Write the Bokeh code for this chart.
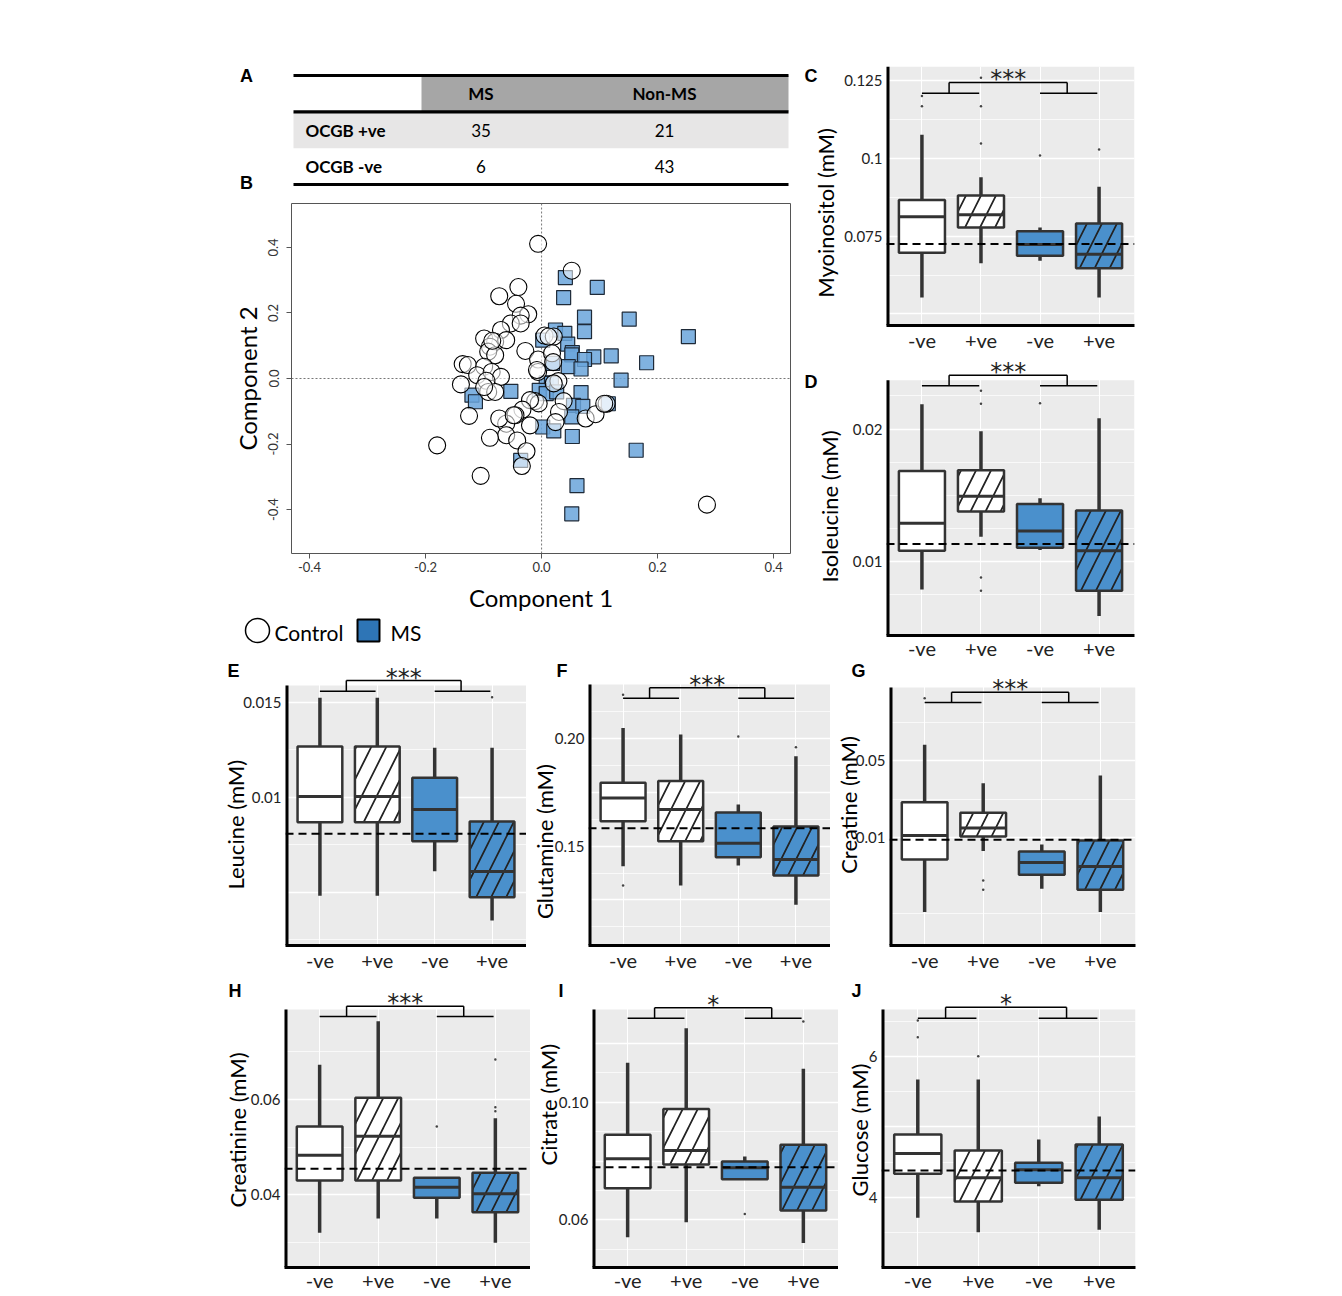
import math
from bokeh.plotting import figure
from bokeh.layouts import column, row
from bokeh.models import Range1d, FixedTicker, BoxAnnotation, Span
from bokeh.core.properties import value
from bokeh.embed import file_html
from bokeh.resources import INLINE

FONT = "Lato"
LETTER_FONT = "Liberation Sans"
STAR_FONT = "DejaVu Sans"
BLUE = "#4a90cc"
PANEL_GRAY = "#ebebeb"
INK = "#333333"
NB = "\u00a0"  # non-breaking space, used to nudge a centred axis title along its axis

# ---------------- data: A (table) ----------------
table_rows = ["OCGB +ve", "OCGB -ve"]
table_cols = ["MS", "Non-MS"]
ms_counts = [35, 6]
non_ms_counts = [21, 43]

# ---------------- data: B (PCA scores) ----------------
ctrl_x = [-0.006, 0.052, -0.040, -0.073, -0.044, -0.023, -0.036, -0.053, -0.036, -0.070,
          -0.099, -0.080, -0.061, -0.089, -0.092, -0.080, -0.028, 0.005, 0.021, -0.006,
          0.018, -0.006, -0.008, -0.136, -0.127, -0.099, -0.111, -0.086, -0.070, -0.095,
          -0.139, -0.092, -0.080, 0.029, 0.021, -0.011, -0.005, -0.020, 0.038, 0.030,
          0.024, -0.033, -0.045, -0.061, -0.073, -0.125, -0.020, -0.061, -0.089, -0.042,
          -0.026, -0.034, -0.105, -0.180, 0.285, 0.076, 0.093, 0.112, 0.108, -0.048,
          -0.099, 0.012, -0.085, 0.020]
ctrl_y = [0.411, 0.329, 0.279, 0.251, 0.228, 0.196, 0.192, 0.168, 0.168, 0.148,
          0.122, 0.112, 0.117, 0.097, 0.082, 0.071, 0.084, 0.131, 0.128, 0.058,
          0.077, 0.020, 0.026, 0.044, 0.041, 0.036, 0.010, 0.020, 0.005, -0.007,
          -0.018, -0.041, -0.041, -0.008, -0.015, -0.069, -0.076, -0.066, -0.069, -0.102,
          -0.133, -0.095, -0.112, -0.138, -0.122, -0.114, -0.143, -0.173, -0.181, -0.189,
          -0.222, -0.267, -0.297, -0.204, -0.385, -0.122, -0.109, -0.077, -0.077, -0.112,
          -0.026, 0.128, 0.115, 0.050]
ms_x = [0.041, 0.096, 0.038, 0.074, 0.151, 0.253, 0.074, 0.024, 0.040, 0.002,
        0.045, 0.053, 0.052, 0.090, 0.074, 0.120, 0.181, 0.019, 0.046, 0.068,
        0.137, 0.008, 0.017, -0.053, -0.120, -0.114, -0.004, 0.008, 0.026, 0.068,
        0.055, 0.071, 0.115, 0.052, 0.002, 0.021, 0.053, 0.163, -0.036, 0.061, 0.052]
ms_y = [0.308, 0.278, 0.247, 0.187, 0.181, 0.128, 0.143, 0.148, 0.138, 0.117,
        0.105, 0.079, 0.072, 0.066, 0.058, 0.069, 0.048, 0.046, 0.036, 0.029,
        -0.005, -0.013, -0.015, -0.039, -0.051, -0.071, -0.036, -0.046, -0.041, -0.043,
        -0.082, -0.085, -0.077, -0.117, -0.148, -0.160, -0.177, -0.219, -0.250, -0.327, -0.413]
pca_ticks = [-0.4, -0.2, 0.0, 0.2, 0.4]
pca_tick_labels = ["-0.4", "-0.2", "0.0", "0.2", "0.4"]
legend_labels = ["Control", "MS"]

# ---------------- data: C-J (box plots) ----------------
groups = ["-ve", "+ve", "-ve", "+ve"]

myo_low = [0.0553, 0.0663, 0.0671, 0.0553]
myo_q1 = [0.0697, 0.0778, 0.0687, 0.0647]
myo_med = [0.0812, 0.0819, 0.0723, 0.0692]
myo_q3 = [0.0866, 0.0881, 0.0766, 0.0791]
myo_high = [0.1076, 0.0939, 0.0778, 0.0909]
myo_out_group = [1, 1, 2, 2, 2, 3, 4]
myo_out_value = [0.1200, 0.1167, 0.1259, 0.1167, 0.1048, 0.1009, 0.1028]
myo_ref = 0.0725

ile_low = [0.00789, 0.01187, 0.01087, 0.0059]
ile_q1 = [0.01082, 0.01378, 0.01104, 0.00781]
ile_med = [0.01289, 0.01493, 0.01231, 0.01082]
ile_q3 = [0.01684, 0.01689, 0.01435, 0.01386]
ile_high = [0.02187, 0.01983, 0.01478, 0.02082]
ile_out_group = [2, 2, 2, 2, 3]
ile_out_value = [0.02289, 0.0219, 0.00881, 0.00781, 0.02194]
ile_ref = 0.01134

leu_low = [0.00481, 0.00481, 0.0061, 0.00351]
leu_q1 = [0.00868, 0.00868, 0.00768, 0.00474]
leu_med = [0.01004, 0.01004, 0.00935, 0.00609]
leu_q3 = [0.01267, 0.01267, 0.01102, 0.00872]
leu_high = [0.01523, 0.01523, 0.0126, 0.0126]
leu_out_group = [4]
leu_out_value = [0.01526]
leu_ref = 0.00807

gln_low = [0.1407, 0.1317, 0.1410, 0.1227]
gln_q1 = [0.1616, 0.1523, 0.1449, 0.1363]
gln_med = [0.1724, 0.1671, 0.1514, 0.1438]
gln_q3 = [0.1795, 0.1803, 0.1657, 0.1592]
gln_high = [0.2050, 0.2020, 0.1694, 0.1919]
gln_out_group = [1, 1, 3, 4]
gln_out_value = [0.2205, 0.1317, 0.2011, 0.1961]
gln_ref = 0.1584

cre_low = [0.00213, 0.00758, 0.00346, 0.00213]
cre_q1 = [0.00637, 0.01029, 0.00463, 0.00339]
cre_med = [0.0105, 0.01224, 0.00598, 0.00551]
cre_q3 = [0.0210, 0.01683, 0.00753, 0.00946]
cre_high = [0.0693, 0.0312, 0.00871, 0.0366]
cre_out_group = [1, 2, 2]
cre_out_value = [0.1829, 0.00412, 0.00339]
cre_ref = 0.0096

crn_low = [0.03203, 0.03503, 0.03503, 0.02993]
crn_q1 = [0.04301, 0.04301, 0.03937, 0.03636]
crn_med = [0.04832, 0.05231, 0.04161, 0.04021]
crn_q3 = [0.05434, 0.06035, 0.04357, 0.04462]
crn_high = [0.06727, 0.07643, 0.04371, 0.05608]
crn_out_group = [3, 4, 4, 4]
crn_out_value = [0.05434, 0.06839, 0.05839, 0.05755]
crn_ref = 0.04546

cit_low = [0.05411, 0.05921, 0.07382, 0.05218]
cit_q1 = [0.07076, 0.07881, 0.07382, 0.06317]
cit_med = [0.08074, 0.08357, 0.07768, 0.0711]
cit_q3 = [0.0889, 0.09773, 0.07983, 0.0855]
cit_high = [0.11337, 0.12516, 0.08153, 0.11133]
cit_out_group = [3, 4]
cit_out_value = [0.0620, 0.12742]
cit_ref = 0.0779

glc_low = [3.706, 3.502, 4.156, 3.536]
glc_q1 = [4.332, 3.938, 4.204, 3.962]
glc_med = [4.621, 4.275, 4.389, 4.275]
glc_q3 = [4.891, 4.664, 4.488, 4.749]
glc_high = [5.673, 5.673, 4.820, 5.147]
glc_out_group = [1, 1, 2]
glc_out_value = [6.512, 6.275, 6.005]
glc_ref = 4.379

group_fill = ["white", "white", BLUE, BLUE]
group_hatch = [" ", "/", " ", "/"]
BOX_W = 0.78


def box_panel(fig_box, frame, yrange, gray_top, low, q1, med, q3, high, out_g, out_v, ref,
              stars, brk, ticks, tick_labels, grid_major, grid_minor, ylabel, standoff,
              letter_text, letter_offset, letter_standoff, log=False, xlabel_standoff=2):
    fx0, fy0, fx1, fy1 = fig_box
    l, t, r, b = frame
    xr = (0.4, 4.6)
    p = figure(width=fx1 - fx0, height=fy1 - fy0, x_range=Range1d(*xr),
               y_range=Range1d(*yrange), y_axis_type="log" if log else "linear",
               min_border_left=l - fx0, min_border_right=fx1 - r,
               min_border_top=t - fy0, min_border_bottom=fy1 - b,
               output_backend="svg", toolbar_location=None)
    p.outline_line_color = None
    p.background_fill_color = "white"
    p.border_fill_color = "white"
    # panel letter as the figure title
    p.title.text = letter_text
    p.title.align = "left"
    p.title.offset = letter_offset
    p.title.standoff = letter_standoff
    p.title.text_font = LETTER_FONT
    p.title.text_font_style = "bold"
    p.title.text_font_size = "18px"
    p.title.text_color = "black"

    p.add_layout(BoxAnnotation(top=gray_top, fill_color=PANEL_GRAY, fill_alpha=1.0,
                               line_color=None, level="image"))
    xs = list(range(1, len(groups) + 1))
    xg = p.xgrid[0]
    xg.ticker = FixedTicker(ticks=xs)
    xg.grid_line_color = "white"
    xg.grid_line_width = 1
    yg = p.ygrid[0]
    yg.ticker = FixedTicker(ticks=grid_major, minor_ticks=grid_minor)
    yg.grid_line_color = "white"
    yg.grid_line_width = 1.4
    yg.minor_grid_line_color = "white"
    yg.minor_grid_line_width = 0.7

    # left axis line only as tall as the grey panel
    p.segment([xr[0]], [yrange[0]], [xr[0]], [gray_top], line_color="black", line_width=6)

    x0 = [x - BOX_W / 2 for x in xs]
    x1 = [x + BOX_W / 2 for x in xs]
    p.segment(xs, q3, xs, high, line_color=INK, line_width=3.5)
    p.segment(xs, low, xs, q1, line_color=INK, line_width=3.5)
    p.vbar(x=xs, width=BOX_W, bottom=q1, top=q3, fill_color=group_fill, line_color=INK,
           line_width=2.5, hatch_pattern=group_hatch, hatch_color="#222222",
           hatch_weight=1.7, hatch_scale=30)
    p.segment(x0, med, x1, med, line_color=INK, line_width=3)
    p.scatter(out_g, out_v, size=2.5, color="#444444", line_color=None)
    p.add_layout(Span(location=ref, dimension="width", line_color="black",
                      line_dash="8 5", line_width=2))

    # significance bracket between the two pairs
    bl, bh = brk
    pairs = [(xs[0], xs[1]), (xs[2], xs[3])]
    mids = [(a + c) / 2 - 0.04 for a, c in pairs]
    bx0 = [a for a, c in pairs] + mids + [mids[0]]
    bx1 = [c - 0.03 for a, c in pairs] + mids + [mids[1]]
    by0 = [bl, bl, bl, bl, bh]
    by1 = [bl, bl, bh, bh, bh]
    p.segment(bx0, by0, bx1, by1, line_color="black", line_width=1.5)
    p.text(x=[(mids[0] + mids[1]) / 2], y=[bh], text=[stars], text_font=value(STAR_FONT),
           text_font_size="24px", text_align="center", text_baseline="middle",
           y_offset=-3, text_color="#222222")

    ya = p.yaxis[0]
    ya.ticker = FixedTicker(ticks=ticks)
    ya.major_label_overrides = {tk: lb for tk, lb in zip(ticks, tick_labels)}
    xa = p.xaxis[0]
    xa.ticker = FixedTicker(ticks=xs)
    xa.major_label_overrides = {x: g for x, g in zip(xs, groups)}
    for ax in (xa, ya):
        ax.axis_line_width = 3
        ax.axis_line_color = "black"
        ax.major_tick_line_color = None
        ax.minor_tick_line_color = None
        ax.major_tick_out = 0
        ax.major_tick_in = 0
        ax.major_label_text_font = FONT
        ax.major_label_text_color = "#222222"
    ya.axis_line_color = None
    ya.major_label_standoff = 4
    ya.major_label_text_font_size = "15px"
    xa.major_label_standoff = xlabel_standoff
    xa.major_label_text_font_size = "20px"
    ya.axis_label = ylabel
    ya.axis_label_text_font = FONT
    ya.axis_label_text_font_size = "22px"
    ya.axis_label_text_font_style = "normal"
    ya.axis_label_text_color = "black"
    ya.axis_label_standoff = standoff
    return p


# ---------------- A: table (frame widened so the panel letters sit inside it) ----------------
col_edges = [0, 128, 247, 495]
panel_letters_AB = ["A", "B"]
tA = figure(width=800, height=193, x_range=Range1d(-57, 497), y_range=Range1d(-0.2477, 3.413),
            x_axis_type=None, y_axis_type=None, min_border_left=236, min_border_right=10,
            min_border_top=60, min_border_bottom=0, output_backend="svg", toolbar_location=None)
tA.outline_line_color = None
tA.grid.visible = False
n_rows = len(table_rows)
tA.quad(left=[col_edges[1]], right=[col_edges[3]], bottom=[n_rows], top=[n_rows + 1],
        fill_color="#a6a6a6", line_color=None)
tA.quad(left=[col_edges[0]], right=[col_edges[3]], bottom=[n_rows - 1], top=[n_rows],
        fill_color="#e7e6e6", line_color=None)
tA.segment(x0=[col_edges[0]] * 3, x1=[col_edges[3]] * 3, y0=[n_rows + 1, n_rows, 0],
           y1=[n_rows + 1, n_rows, 0], line_color="black", line_width=3.2)
col_centers = [(col_edges[i] + col_edges[i + 1]) / 2 for i in (1, 2)]
tA.text(x=col_centers, y=[n_rows + 0.5] * 2, text=table_cols, text_font=value(FONT),
        text_font_size="17px", text_font_style="bold", text_align="center", text_baseline="middle")
row_y = [n_rows - i - 0.5 for i in range(n_rows)]
tA.text(x=[12] * n_rows, y=row_y, text=table_rows, text_font=value(FONT), text_font_size="17px",
        text_font_style="bold", text_align="left", text_baseline="middle")
tA.text(x=[col_centers[0]] * n_rows, y=row_y, text=[str(v) for v in ms_counts], text_font=value(FONT),
        text_font_size="17px", text_align="center", text_baseline="middle")
tA.text(x=[col_centers[1]] * n_rows, y=row_y, text=[str(v) for v in non_ms_counts],
        text_font=value(FONT), text_font_size="17px", text_align="center", text_baseline="middle")
tA.text(x=[-47, -47], y=[n_rows + 1, 0.05], text=panel_letters_AB, text_font=value(LETTER_FONT),
        text_font_size="18px", text_font_style="bold", text_align="center", text_baseline="middle")

# ---------------- B: PCA ----------------
pB = figure(width=800, height=421, x_range=Range1d(-0.431, 0.429), y_range=Range1d(-0.534, 0.534),
            min_border_left=291, min_border_right=10, min_border_top=10, min_border_bottom=61,
            output_backend="svg", toolbar_location=None)
pB.grid.visible = False
pB.outline_line_color = "#555555"
pB.outline_line_width = 1
pB.add_layout(Span(location=0, dimension="height", line_dash="2 2", line_color="#777777",
                   line_width=1, level="underlay"))
pB.add_layout(Span(location=0, dimension="width", line_dash="2 2", line_color="#777777",
                   line_width=1, level="underlay"))
pB.scatter(ms_x, ms_y, marker="square", size=14, fill_color="#6aa5db", fill_alpha=0.85,
           line_color="#1e2a38", line_width=1.2)
pB.scatter(ctrl_x, ctrl_y, marker="circle", size=17, fill_color="white", fill_alpha=0.55,
           line_color="black", line_width=1.1)
for ax in (pB.xaxis[0], pB.yaxis[0]):
    ax.ticker = FixedTicker(ticks=pca_ticks)
    ax.major_label_overrides = {t: s for t, s in zip(pca_ticks, pca_tick_labels)}
    ax.axis_line_color = None
    ax.major_tick_out = 5
    ax.major_tick_in = 0
    ax.major_tick_line_color = "#555555"
    ax.minor_tick_line_color = None
    ax.major_label_text_font = FONT
    ax.major_label_text_font_size = "13px"
    ax.major_label_text_color = "#333333"
    ax.axis_label_text_font = FONT
    ax.axis_label_text_font_size = "24px"
    ax.axis_label_text_font_style = "normal"
    ax.axis_label_text_color = "black"
pB.xaxis[0].major_label_standoff = 3
pB.yaxis[0].major_label_standoff = 8
pB.xaxis[0].axis_label = "Component 1"
pB.xaxis[0].axis_label_standoff = 8
pB.yaxis[0].axis_label = "Component 2"
pB.yaxis[0].axis_label_standoff = 4
pB.yaxis[0].major_label_orientation = "vertical"

# legend strip for B (its own row so it keeps its full width)
legB = figure(width=800, height=48, x_range=Range1d(0, 800), y_range=Range1d(0, 48),
              x_axis_type=None, y_axis_type=None, min_border=0,
              output_backend="svg", toolbar_location=None)
legB.outline_line_color = None
legB.grid.visible = False
legB.scatter([257], [32], marker="circle", size=24, fill_color="white", line_color="black", line_width=1.5)
legB.scatter([368], [32], marker="square", size=22, fill_color="#2e75b6", line_color="black", line_width=2)
legB.text(x=[274, 390], y=[30, 30], text=legend_labels, text_font=value(FONT), text_font_size="21px",
          text_align="left", text_baseline="middle", text_color="black")

# ---------------- C - J ----------------
pC = box_panel((800, 0, 1342, 355), (886, 66, 1134, 325), (0.0463, 0.1295), 0.1295,
               myo_low, myo_q1, myo_med, myo_q3, myo_high, myo_out_group, myo_out_value, myo_ref,
               "***", (0.1209, 0.1244), [0.075, 0.1, 0.125], ["0.075", "0.1", "0.125"],
               [0.05, 0.075, 0.1, 0.125], [0.0625, 0.0875, 0.1125],
               "Myoinositol (mM)" + NB * 6, 2, "C", -82, -38)
pD = box_panel((800, 355, 1342, 662), (886, 360, 1134, 638), (0.00443, 0.02517), 0.02368,
               ile_low, ile_q1, ile_med, ile_q3, ile_high, ile_out_group, ile_out_value, ile_ref,
               "***", (0.02326, 0.02405), [0.01, 0.02], ["0.01", "0.02"],
               [0.01, 0.02], [0.0075, 0.0125, 0.015, 0.0175, 0.0225],
               "Isoleucine (mM)" + NB * 3, 7, "D", -82, -62, xlabel_standoff=0)
pE = box_panel((0, 662, 526, 977), (285, 664, 526, 945), (0.0021947, 0.016984), 0.01588,
               leu_low, leu_q1, leu_med, leu_q3, leu_high, leu_out_group, leu_out_value, leu_ref,
               "***", (0.01558, 0.01614), [0.01, 0.015], ["0.01", "0.015"],
               [0.005, 0.01, 0.015], [0.0025, 0.0075, 0.0125],
               "Leucine (mM)" + NB * 7, -9, "E", -58, -32)
pF = box_panel((526, 662, 830, 977), (588, 664, 830, 945), (0.10375, 0.23461), 0.2253,
               gln_low, gln_q1, gln_med, gln_q3, gln_high, gln_out_group, gln_out_value, gln_ref,
               "***", (0.2189, 0.2238), [0.15, 0.2], ["0.15", "0.20"],
               [0.125, 0.15, 0.175, 0.2], [0.1125, 0.1375, 0.1625, 0.1875, 0.2125],
               "Glutamine (mM)" + NB * 13, -6, "F", -32, -32)
pG = box_panel((830, 662, 1342, 977), (889, 664, 1135, 945), (0.001062, 0.3690), 0.2286,
               cre_low, cre_q1, cre_med, cre_q3, cre_high, cre_out_group, cre_out_value, cre_ref,
               "***", (0.167, 0.207), [0.01, 0.05], ["0.01", "0.05"],
               [0.01, 0.05], [0.00206, 0.02236, 0.111], "Creatine (mM)", -9,
               "G", -38, -32, log=True)
pH = box_panel((0, 977, 530, 1296), (284, 992, 530, 1267), (0.02476, 0.082446), 0.0789,
               crn_low, crn_q1, crn_med, crn_q3, crn_high, crn_out_group, crn_out_value, crn_ref,
               "***", (0.07741, 0.07958), [0.04, 0.06], ["0.04", "0.06"],
               [0.04, 0.06], [0.03, 0.05, 0.07], "Creatinine (mM)", -3,
               "H", -56, -16, xlabel_standoff=0)
pI = box_panel((530, 977, 838, 1296), (592, 992, 838, 1267), (0.04381, 0.13729), 0.1315,
               cit_low, cit_q1, cit_med, cit_q3, cit_high, cit_out_group, cit_out_value, cit_ref,
               "*", (0.12856, 0.13207), [0.06, 0.1], ["0.06", "0.10"],
               [0.06, 0.08, 0.1, 0.12], [0.05, 0.07, 0.09, 0.11],
               NB * 9 + "Citrate (mM)", -6, "I", -34, -16, xlabel_standoff=0)
pJ = box_panel((838, 977, 1342, 1296), (881, 992, 1135, 1267), (3.0, 6.910), 6.668,
               glc_low, glc_q1, glc_med, glc_q3, glc_high, glc_out_group, glc_out_value, glc_ref,
               "*", (6.545, 6.701), [4, 6], ["4", "6"],
               [3, 4, 5, 6], [3.5, 4.5, 5.5, 6.5],
               "Glucose (mM)", -7, "J", -30, -16, xlabel_standoff=0)

layout = column(
    row(column(row(tA), pB, row(legB)), column(pC, pD)),
    row(pE, pF, pG),
    row(pH, pI, pJ),
)

open("out.html", "w").write(file_html(layout, INLINE))
